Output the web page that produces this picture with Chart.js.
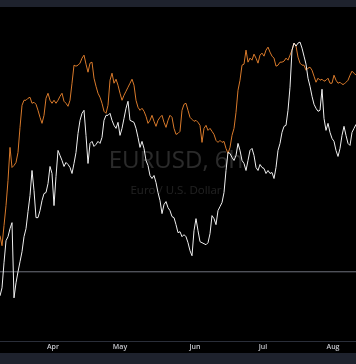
<!DOCTYPE html>
<html>
<head>
<meta charset="utf-8">
<script src="https://cdn.jsdelivr.net/npm/chart.js@4.4.1/dist/chart.umd.min.js"></script>
<style>
html,body{margin:0;padding:0;background:#000;overflow:hidden;}
canvas{display:block;}
</style>
</head>
<body>
<canvas id="c" width="356" height="364"></canvas>
<script>
// EURUSD 6h closes (white) and comparison symbol (orange), price units
const eurusd = [
1.0516,1.0540,1.0615,1.0681,1.0693,1.0717,1.0735,1.0510,1.0555,1.0588,
1.0618,1.0648,1.0693,1.0717,1.0768,1.0816,1.0891,1.0831,1.0750,1.0750,
1.0771,1.0801,1.0822,1.0825,1.0852,1.0903,1.0882,1.0786,1.0873,1.0951,
1.0936,1.0921,1.0903,1.0915,1.0909,1.0900,1.0882,1.0912,1.0945,1.1002,
1.1041,1.1062,1.1071,1.0996,1.0912,1.0972,1.0978,1.0963,1.0969,1.0978,
1.0972,1.0990,1.1041,1.1056,1.1056,1.1062,1.1041,1.1026,1.1017,1.1035,
1.0996,1.1017,1.1047,1.1077,1.1098,1.1041,1.1038,1.1035,1.1017,1.0990,
1.0960,1.0978,1.0957,1.0921,1.0906,1.0876,1.0867,1.0876,1.0855,1.0825,
1.0801,1.0762,1.0789,1.0798,1.0780,1.0771,1.0753,1.0750,1.0729,1.0705,
1.0708,1.0693,1.0699,1.0693,1.0675,1.0651,1.0636,1.0711,1.0747,1.0711,
1.0678,1.0675,1.0672,1.0669,1.0675,1.0702,1.0756,1.0747,1.0729,1.0771,
1.0783,1.0795,1.0825,1.0891,1.0945,1.0942,1.0930,1.0921,1.0936,1.0972,
1.0951,1.0921,1.0912,1.0891,1.0921,1.0951,1.0957,1.0936,1.0900,1.0891,
1.0909,1.0900,1.0897,1.0882,1.0891,1.0882,1.0885,1.0867,1.0900,1.0951,
1.0972,1.1005,1.1023,1.1026,1.1071,1.1140,1.1251,1.1272,1.1263,1.1272,
1.1275,1.1257,1.1233,1.1209,1.1167,1.1143,1.1113,1.1089,1.1077,1.1068,
1.1071,1.1134,1.1047,1.1011,1.1032,1.1005,1.0987,1.0978,1.0951,1.0933,
1.0957,1.0996,1.1023,1.0996,1.0972,1.0966,1.1005,1.1017,1.1029
];
const compare = [
1.0696,1.0666,1.0726,1.0786,1.0861,1.0960,1.0900,1.0906,1.0915,1.0945,
1.1020,1.1086,1.1101,1.1101,1.1107,1.1110,1.1092,1.1095,1.1089,1.1071,
1.1050,1.1032,1.1056,1.1107,1.1122,1.1101,1.1092,1.1101,1.1092,1.1101,
1.1113,1.1122,1.1098,1.1092,1.1083,1.1101,1.1152,1.1206,1.1203,1.1206,
1.1212,1.1227,1.1236,1.1209,1.1185,1.1212,1.1215,1.1167,1.1143,1.1122,
1.1110,1.1092,1.1068,1.1062,1.1086,1.1161,1.1182,1.1152,1.1164,1.1146,
1.1122,1.1101,1.1116,1.1128,1.1140,1.1152,1.1164,1.1146,1.1101,1.1080,
1.1071,1.1077,1.1068,1.1053,1.1032,1.1041,1.1056,1.1038,1.1023,1.1041,
1.1050,1.1056,1.1035,1.1020,1.1041,1.1056,1.1050,1.1017,1.0999,1.1002,
1.1008,1.1071,1.1089,1.1092,1.1071,1.1050,1.1044,1.1038,1.1041,1.1035,
1.1026,1.0975,1.1017,1.1026,1.1011,1.1017,1.1008,1.0999,1.0981,1.0975,
1.0981,1.0975,1.0978,1.0957,1.0942,1.0960,1.0996,1.1017,1.1065,1.1131,
1.1161,1.1206,1.1209,1.1251,1.1215,1.1227,1.1221,1.1239,1.1227,1.1212,
1.1236,1.1242,1.1233,1.1251,1.1260,1.1245,1.1233,1.1227,1.1203,1.1206,
1.1215,1.1215,1.1218,1.1227,1.1221,1.1236,1.1251,1.1272,1.1263,1.1230,
1.1212,1.1206,1.1206,1.1191,1.1197,1.1200,1.1191,1.1173,1.1155,1.1167,
1.1161,1.1164,1.1158,1.1161,1.1167,1.1152,1.1152,1.1176,1.1161,1.1152,
1.1155,1.1149,1.1149,1.1155,1.1161,1.1176,1.1188,1.1182,1.1176
];
const priceLine = 1.0588;
const monthLabels = ['Apr','May','Jun','Jul','Aug'];
const monthPositions = [26.5, 60, 97.5, 131.5, 166.5];
const titleText = 'EURUSD, 6h';
const subtitleText = 'Euro / U.S. Dollar';

const toXY = arr => arr.map((v, i) => ({x: i, y: v}));
const lastIndex = eurusd.length - 1;

const bgPlugin = {
  id: 'bg',
  beforeDraw(chart) {
    const ctx = chart.ctx, w = chart.width, h = chart.height;
    ctx.save();
    ctx.fillStyle = '#000000';
    ctx.fillRect(0, 0, w, h);
    ctx.fillStyle = '#1e222d';
    ctx.fillRect(0, 0, w, 7);
    ctx.fillRect(0, h - 11, w, 11);
    ctx.restore();
  },
  beforeDatasetsDraw(chart) {
    const ctx = chart.ctx;
    ctx.save();
    ctx.textAlign = 'center';
    ctx.textBaseline = 'middle';
    ctx.fillStyle = 'rgba(255,255,255,0.17)';
    ctx.font = '24px "Open Sans", sans-serif';
    ctx.fillText(titleText, 176, 161);
    ctx.fillStyle = 'rgba(255,255,255,0.13)';
    ctx.font = '11.5px "Open Sans", sans-serif';
    ctx.fillText(subtitleText, 176, 191);
    ctx.restore();
  }
};

new Chart(document.getElementById('c'), {
  type: 'line',
  data: {
    datasets: [
      {label: 'EURUSD', data: toXY(eurusd), borderColor: '#f0f0f0', borderWidth: 1, pointRadius: 0, tension: 0, order: 0},
      {label: 'Compare', data: toXY(compare), borderColor: '#d97a2b', borderWidth: 1, pointRadius: 0, tension: 0, order: 1},
      {label: 'Price line', data: [{x: 0, y: priceLine}, {x: lastIndex, y: priceLine}], borderColor: '#6f727c', borderWidth: 1, pointRadius: 0, order: 2}
    ]
  },
  options: {
    responsive: false,
    animation: false,
    events: [],
    layout: {padding: {top: 7, bottom: 11, left: 0, right: 0}},
    plugins: {legend: {display: false}, tooltip: {enabled: false}},
    scales: {
      x: {
        type: 'linear', min: 0, max: lastIndex,
        grid: {display: false, drawTicks: false},
        border: {display: true, color: '#2a2e39', width: 1},
        afterBuildTicks(axis) { axis.ticks = monthPositions.map(v => ({value: v})); },
        afterFit(axis) { axis.height = 12; },
        ticks: {
          autoSkip: false, maxRotation: 0, padding: 2,
          color: '#c8cad0',
          font: {family: 'Open Sans', size: 7, weight: '600'},
          callback(value) { const k = monthPositions.indexOf(value); return k >= 0 ? monthLabels[k] : ''; }
        }
      },
      y: {display: false, min: 1.0381, max: 1.1380}
    }
  },
  plugins: [bgPlugin]
});
</script>
</body>
</html>
